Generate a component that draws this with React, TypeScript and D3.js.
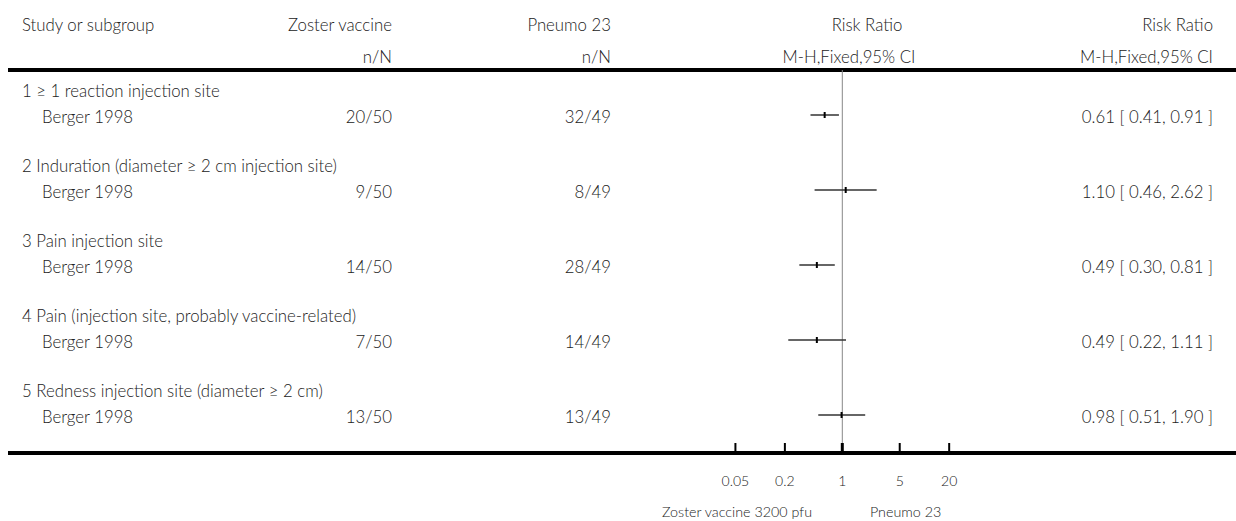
import React from "react";
import * as d3 from "d3";

const groups = [
  "1 ≥ 1 reaction injection site",
  "2 Induration (diameter ≥ 2 cm injection site)",
  "3 Pain injection site",
  "4 Pain (injection site, probably vaccine-related)",
  "5 Redness injection site (diameter ≥ 2 cm)",
];
const studies = ["Berger 1998", "Berger 1998", "Berger 1998", "Berger 1998", "Berger 1998"];
const zosterN = ["20/50", "9/50", "14/50", "7/50", "13/50"];
const pneumoN = ["32/49", "8/49", "28/49", "14/49", "13/49"];
const rr = [0.61, 1.1, 0.49, 0.49, 0.98];
const lo = [0.41, 0.46, 0.3, 0.22, 0.51];
const hi = [0.91, 2.62, 0.81, 1.11, 1.9];
const ticks = [0.05, 0.2, 1, 5, 20];
const tickLabels = ["0.05", "0.2", "1", "5", "20"];

const W = 1236;
const H = 521;
const FONT = "Lato, 'Open Sans', sans-serif";

export default function App() {
  const x = d3.scaleLog().domain([0.01, 100]).range([678, 1006.6]);
  const yRow = d3.scaleLinear().domain([0, 1]).range([90, 165]);
  const fmt = d3.format(".2f");
  const txt = "#222";
  const FS = 16.8;
  return (
    <div style={{ position: "absolute", left: 0, top: 0 }}>
      <svg width={W} height={H} style={{ display: "block", fontFamily: FONT }}>
        <rect width={W} height={H} fill="#fff" />
        {/* headers */}
        <g fontSize={FS} fill={txt} fontWeight={300}>
          <text x={22} y={31}>Study or subgroup</text>
          <text x={392} y={31} textAnchor="end">Zoster vaccine</text>
          <text x={392} y={63} textAnchor="end">n/N</text>
          <text x={611} y={31} textAnchor="end">Pneumo 23</text>
          <text x={611} y={63} textAnchor="end">n/N</text>
          <text x={867} y={31} textAnchor="middle">Risk Ratio</text>
          <text x={849} y={63} textAnchor="middle">M-H,Fixed,95% CI</text>
          <text x={1213} y={31} textAnchor="end">Risk Ratio</text>
          <text x={1213} y={63} textAnchor="end">M-H,Fixed,95% CI</text>
        </g>
        <line x1={8} x2={1236} y1={70} y2={70} stroke="#000" strokeWidth={4} />
        {/* reference line */}
        <line x1={x(1)} x2={x(1)} y1={70} y2={455} stroke="#888" strokeWidth={1} />
        {groups.map((g, i) => {
          const gy = yRow(i);
          const sy = gy + 25;
          return (
            <g key={i}>
              <g fontSize={FS} fill={txt} fontWeight={300}>
                <text x={22} y={gy + 7}>{g}</text>
                <text x={42} y={sy + 8}>{studies[i]}</text>
                <text x={392} y={sy + 8} textAnchor="end">{zosterN[i]}</text>
                <text x={611} y={sy + 8} textAnchor="end">{pneumoN[i]}</text>
                <text x={1213} y={sy + 8} textAnchor="end">
                  {`${fmt(rr[i])} [ ${fmt(lo[i])}, ${fmt(hi[i])} ]`}
                </text>
              </g>
              <line x1={x(lo[i])} x2={x(hi[i])} y1={sy} y2={sy} stroke="#333" strokeWidth={1.5} />
              <rect x={x(rr[i]) - 1} y={sy - 3} width={2} height={6} fill="#000" />
            </g>
          );
        })}
        {/* axis */}
        <line x1={8} x2={1236} y1={453} y2={453} stroke="#000" strokeWidth={4} />
        {ticks.map((t, i) => (
          <g key={t}>
            <line x1={x(t)} x2={x(t)} y1={443} y2={453} stroke="#000" strokeWidth={t === 1 ? 3 : 2} />
            <text x={x(t)} y={486} textAnchor="middle" fontSize={14} fill={txt} fontWeight={300}>
              {tickLabels[i]}
            </text>
          </g>
        ))}
        <text x={812} y={517} textAnchor="end" fontSize={14.3} fill={txt} fontWeight={300}>
          Zoster vaccine 3200 pfu
        </text>
        <text x={870} y={517} fontSize={14.3} fill={txt} fontWeight={300}>
          Pneumo 23
        </text>
      </svg>
    </div>
  );
}
